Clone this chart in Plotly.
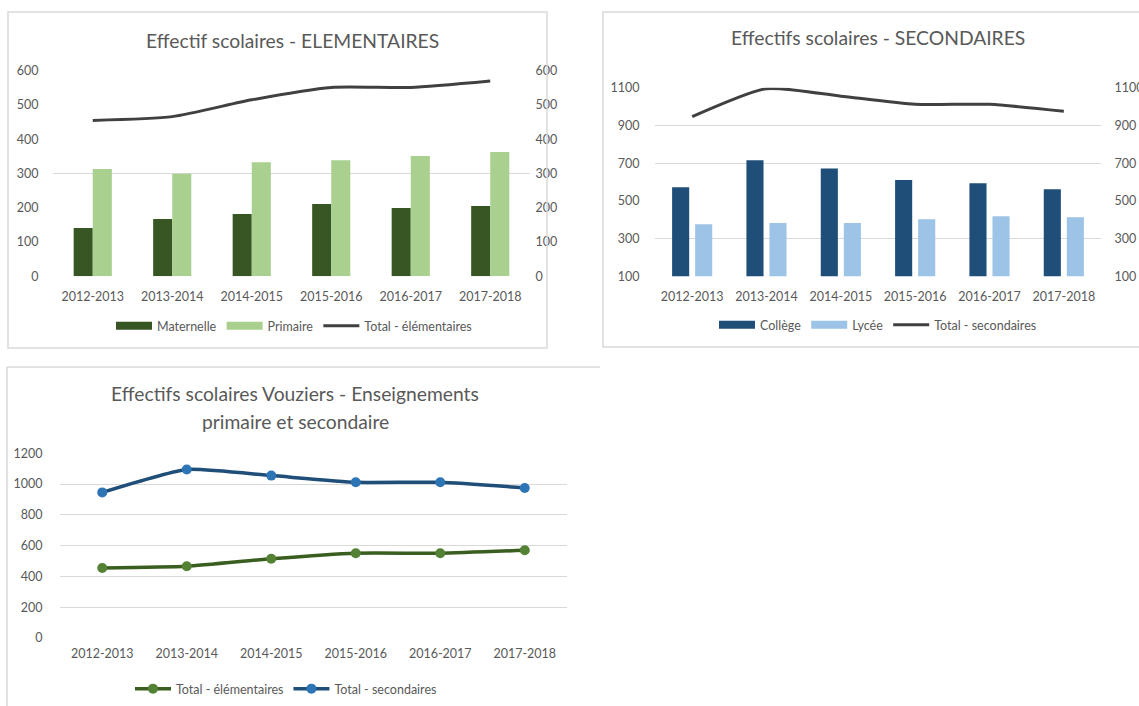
import plotly.graph_objects as go

W, H = 1139, 706

# ---------------- data ----------------
years = ["2012-2013", "2013-2014", "2014-2015", "2015-2016", "2016-2017", "2017-2018"]

maternelle = [141, 167, 182, 211, 199, 205]
primaire = [313, 299, 333, 339, 351, 363]
total_elem = [455, 466, 515, 551, 551, 570]

college = [572, 715, 672, 610, 594, 562]
lycee = [376, 382, 382, 402, 418, 413]
total_sec = [946, 1095, 1055, 1012, 1012, 975]

ticks_elem = [0, 100, 200, 300, 400, 500, 600]
grid_elem = [0, 300, 600]
ticks_sec = [100, 300, 500, 700, 900, 1100]
grid_sec = [100, 300, 700, 900]
ticks_all = [0, 200, 400, 600, 800, 1000, 1200]

FONT = "Lato"
GRAY = "#595959"
GRID = "#d9d9d9"

C_MAT, C_PRI = "#375623", "#a9d08e"
C_COL, C_LYC = "#1f4e79", "#9dc3e6"
C_TOT = "#404040"


def px(x):
    return x / W


def py(y):
    return 1 - y / H


fig = go.Figure()


def legend_proxy(name, color, xa, ya, leg):
    # legend-only entry drawn as a wide flat rectangle (like the spreadsheet legend key)
    return go.Scatter(name=name, x=[None], y=[None], xaxis=xa, yaxis=ya, mode="lines",
                      line=dict(color=color, width=8), legend=leg, hoverinfo="skip")


# ---------- chart 1 : elementaires ----------
fig.add_trace(go.Bar(name="Maternelle", x=years, y=maternelle, xaxis="x", yaxis="y",
                     width=0.24, offset=-0.24, marker=dict(color=C_MAT, line=dict(width=0)),
                     showlegend=False))
fig.add_trace(go.Bar(name="Primaire", x=years, y=primaire, xaxis="x", yaxis="y",
                     width=0.24, offset=0.0, marker=dict(color=C_PRI, line=dict(width=0)),
                     showlegend=False))
fig.add_trace(legend_proxy("Maternelle", C_MAT, "x", "y", "legend"))
fig.add_trace(legend_proxy("Primaire", C_PRI, "x", "y", "legend"))
fig.add_trace(go.Scatter(name="Total - élémentaires", x=years, y=total_elem, xaxis="x", yaxis="y2",
                         mode="lines", line=dict(color=C_TOT, width=3, shape="spline", smoothing=0.6),
                         legend="legend"))
fig.add_trace(go.Scatter(x=[], y=[], xaxis="x", yaxis="y3", showlegend=False, hoverinfo="skip"))

# ---------- chart 2 : secondaires ----------
fig.add_trace(go.Bar(name="Collège", x=years, y=college, xaxis="x2", yaxis="y4",
                     width=0.23, offset=-0.27, marker=dict(color=C_COL, line=dict(width=0)),
                     showlegend=False))
fig.add_trace(go.Bar(name="Lycée", x=years, y=lycee, xaxis="x2", yaxis="y4",
                     width=0.23, offset=0.04, marker=dict(color=C_LYC, line=dict(width=0)),
                     showlegend=False))
fig.add_trace(legend_proxy("Collège", C_COL, "x2", "y4", "legend2"))
fig.add_trace(legend_proxy("Lycée", C_LYC, "x2", "y4", "legend2"))
fig.add_trace(go.Scatter(name="Total - secondaires", x=years, y=total_sec, xaxis="x2", yaxis="y5",
                         mode="lines", line=dict(color=C_TOT, width=3, shape="spline", smoothing=0.6),
                         legend="legend2"))
fig.add_trace(go.Scatter(x=[], y=[], xaxis="x2", yaxis="y6", showlegend=False, hoverinfo="skip"))

# ---------- chart 3 : both totals ----------
fig.add_trace(go.Scatter(name="Total - élémentaires", x=years, y=total_elem, xaxis="x3", yaxis="y7",
                         mode="lines+markers",
                         line=dict(color="#3a5e1f", width=3.5, shape="spline", smoothing=0.5),
                         marker=dict(color="#548235", size=10),
                         legend="legend3"))
fig.add_trace(go.Scatter(name="Total - secondaires", x=years, y=total_sec, xaxis="x3", yaxis="y7",
                         mode="lines+markers",
                         line=dict(color="#1f4e79", width=3.5, shape="spline", smoothing=0.5),
                         marker=dict(color="#2e75b6", size=10),
                         legend="legend3"))

tickfont = dict(family=FONT, size=12.5, color=GRAY)


def xax(d0, d1, anchor, standoff):
    return dict(domain=[px(d0), px(d1)], anchor=anchor, type="category",
                range=[-0.5, len(years) - 0.5], autorange=False,
                showgrid=False, zeroline=False, showline=False, automargin=False,
                ticks="outside", ticklen=standoff, tickcolor="rgba(0,0,0,0)",
                tickfont=tickfont, fixedrange=True)


def yax_lab(dom, rng, vals, anchor, side="left", overlay=None, standoff=8):
    d = dict(domain=dom, range=rng, tickvals=vals, anchor=anchor, side=side,
             showgrid=False, zeroline=False, showline=False, automargin=False,
             ticks="outside", ticklen=standoff, tickcolor="rgba(0,0,0,0)",
             tickfont=tickfont, fixedrange=True)
    if overlay:
        d["overlaying"] = overlay
    return d


def yax_grid(dom, rng, vals, anchor, overlay):
    return dict(domain=dom, range=rng, tickvals=vals, anchor=anchor, overlaying=overlay,
                showgrid=True, gridcolor=GRID, gridwidth=1.3, showticklabels=False,
                zeroline=False, showline=False, ticks="", fixedrange=True, automargin=False)


dom1 = [py(276.3), py(70.7)]
dom2 = [py(276.3), py(87.7)]
dom3 = [py(638), py(453.3)]

legfont = dict(family=FONT, size=12.5, color=GRAY)

fig.update_layout(
    template="none",
    width=W, height=H,
    margin=dict(l=0, r=0, t=0, b=0, pad=0, autoexpand=False),
    paper_bgcolor="white", plot_bgcolor="rgba(0,0,0,0)",
    barmode="overlay",
    font=dict(family=FONT, color=GRAY),
    hovermode=False,
    xaxis=xax(53, 530, "y", 9),
    yaxis=yax_lab(dom1, [0, 600], ticks_elem, "x", "left", None, 11),
    yaxis2=yax_lab(dom1, [0, 600], ticks_elem, "x", "right", "y", 2),
    yaxis3=yax_grid(dom1, [0, 600], grid_elem, "x", "y"),
    xaxis2=xax(655, 1101, "y4", 9),
    yaxis4=yax_lab(dom2, [100, 1100], ticks_sec, "x2", "left", None, 12),
    yaxis5=yax_lab(dom2, [100, 1100], ticks_sec, "x2", "right", "y4", 10),
    yaxis6=yax_grid(dom2, [100, 1100], grid_sec, "x2", "y4"),
    xaxis3=xax(60, 567, "y7", 4),
    yaxis7=dict(domain=dom3, range=[0, 1200], tickvals=ticks_all, anchor="x3",
                showgrid=True, gridcolor=GRID, gridwidth=1.3, zeroline=False, showline=False,
                ticks="outside", ticklen=14, tickcolor="rgba(0,0,0,0)", automargin=False,
                tickfont=tickfont, fixedrange=True),
    legend=dict(orientation="h", x=px(294), xanchor="center", y=py(326), yanchor="middle",
                font=legfont, bgcolor="rgba(0,0,0,0)", itemwidth=36,
                traceorder="normal"),
    legend2=dict(orientation="h", x=px(878), xanchor="center", y=py(325), yanchor="middle",
                 font=legfont, bgcolor="rgba(0,0,0,0)", itemwidth=36,
                 traceorder="normal"),
    legend3=dict(orientation="h", x=px(286), xanchor="center", y=py(689), yanchor="middle",
                 font=legfont, bgcolor="rgba(0,0,0,0)", itemwidth=36,
                 traceorder="normal"),
)

titlefont = dict(family=FONT, size=19.3, color=GRAY)
annots = [
    ("Effectif scolaires - ELEMENTAIRES", 292, 40),
    ("Effectifs scolaires - SECONDAIRES", 878, 38),
    ("Effectifs scolaires Vouziers - Enseignements", 295, 393),
    ("primaire et secondaire", 295, 421),
]
for txt, ax_, ay_ in annots:
    fig.add_annotation(text=txt, x=px(ax_), y=py(ay_), xref="paper", yref="paper",
                       xanchor="center", yanchor="middle", showarrow=False, font=titlefont)

border = dict(color=GRID, width=1.5)
fig.add_shape(type="rect", xref="paper", yref="paper",
              x0=px(8), x1=px(547), y0=py(348), y1=py(12), line=border)
fig.add_shape(type="rect", xref="paper", yref="paper",
              x0=px(603), x1=px(1150), y0=py(347), y1=py(12), line=border)
fig.add_shape(type="line", xref="paper", yref="paper",
              x0=px(7), x1=px(600), y0=py(367), y1=py(367), line=border)
fig.add_shape(type="line", xref="paper", yref="paper",
              x0=px(7), x1=px(7), y0=py(367), y1=py(720), line=border)

fig.write_html("out.html",
               config={"displayModeBar": False, "staticPlot": False},
               post_script="document.body.style.margin='0px';document.body.style.overflow='hidden';")
